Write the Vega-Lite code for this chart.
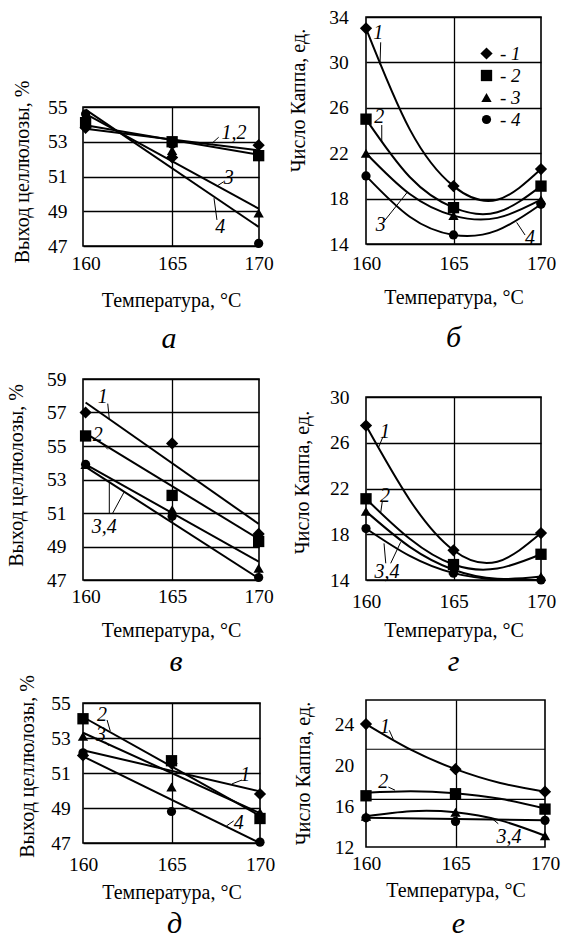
{
  "$schema": "https://vega.github.io/schema/vega-lite/v6.json",
  "background": "white",
  "padding": {"left": 5, "top": 0, "right": 0, "bottom": 0},
  "datasets": {
    "points": [
      {"panel":"a","series":"1","t":160,"v":53.8},{"panel":"a","series":"1","t":165,"v":52.1},{"panel":"a","series":"1","t":170,"v":52.8},
      {"panel":"a","series":"2","t":160,"v":54.1},{"panel":"a","series":"2","t":165,"v":53.0},{"panel":"a","series":"2","t":170,"v":52.2},
      {"panel":"a","series":"3","t":160,"v":54.35},{"panel":"a","series":"3","t":165,"v":52.5},{"panel":"a","series":"3","t":170,"v":48.9},
      {"panel":"a","series":"4","t":160,"v":54.6},{"panel":"a","series":"4","t":165,"v":52.85},{"panel":"a","series":"4","t":170,"v":47.15},
      {"panel":"b","series":"1","t":160,"v":33.0},{"panel":"b","series":"1","t":165,"v":19.1},{"panel":"b","series":"1","t":170,"v":20.6},
      {"panel":"b","series":"2","t":160,"v":25.0},{"panel":"b","series":"2","t":165,"v":17.2},{"panel":"b","series":"2","t":170,"v":19.1},
      {"panel":"b","series":"3","t":160,"v":22.0},{"panel":"b","series":"3","t":165,"v":16.5},{"panel":"b","series":"3","t":170,"v":17.9},
      {"panel":"b","series":"4","t":160,"v":20.0},{"panel":"b","series":"4","t":165,"v":14.8},{"panel":"b","series":"4","t":170,"v":17.5},
      {"panel":"v","series":"1","t":160,"v":57.0},{"panel":"v","series":"1","t":165,"v":55.15},{"panel":"v","series":"1","t":170,"v":49.75},
      {"panel":"v","series":"2","t":160,"v":55.6},{"panel":"v","series":"2","t":165,"v":52.05},{"panel":"v","series":"2","t":170,"v":49.3},
      {"panel":"v","series":"3","t":160,"v":53.9},{"panel":"v","series":"3","t":165,"v":51.2},{"panel":"v","series":"3","t":170,"v":47.7},
      {"panel":"v","series":"4","t":160,"v":53.9},{"panel":"v","series":"4","t":165,"v":50.8},{"panel":"v","series":"4","t":170,"v":47.15},
      {"panel":"g","series":"1","t":160,"v":27.5},{"panel":"g","series":"1","t":165,"v":16.6},{"panel":"g","series":"1","t":170,"v":18.1},
      {"panel":"g","series":"2","t":160,"v":21.1},{"panel":"g","series":"2","t":165,"v":15.35},{"panel":"g","series":"2","t":170,"v":16.25},
      {"panel":"g","series":"3","t":160,"v":20.0},{"panel":"g","series":"3","t":165,"v":14.9},{"panel":"g","series":"3","t":170,"v":14.3},
      {"panel":"g","series":"4","t":160,"v":18.5},{"panel":"g","series":"4","t":165,"v":14.6},{"panel":"g","series":"4","t":170,"v":14.0},
      {"panel":"d","series":"1","t":160,"v":52.0},{"panel":"d","series":"1","t":165,"v":51.55},{"panel":"d","series":"1","t":170,"v":49.8},
      {"panel":"d","series":"2","t":160,"v":54.1},{"panel":"d","series":"2","t":165,"v":51.7},{"panel":"d","series":"2","t":170,"v":48.4},
      {"panel":"d","series":"3","t":160,"v":53.1},{"panel":"d","series":"3","t":165,"v":50.2},{"panel":"d","series":"3","t":170,"v":48.75},
      {"panel":"d","series":"4","t":160,"v":52.15},{"panel":"d","series":"4","t":165,"v":48.8},{"panel":"d","series":"4","t":170,"v":47.05},
      {"panel":"e","series":"1","t":160,"v":24.0},{"panel":"e","series":"1","t":165,"v":19.6},{"panel":"e","series":"1","t":170,"v":17.4},
      {"panel":"e","series":"2","t":160,"v":17.0},{"panel":"e","series":"2","t":165,"v":17.2},{"panel":"e","series":"2","t":170,"v":15.7},
      {"panel":"e","series":"3","t":160,"v":15.0},{"panel":"e","series":"3","t":165,"v":15.4},{"panel":"e","series":"3","t":170,"v":13.1},
      {"panel":"e","series":"4","t":160,"v":14.85},{"panel":"e","series":"4","t":165,"v":14.5},{"panel":"e","series":"4","t":170,"v":14.6}
    ],
    "lines": [
      {"panel":"a","line":"1","t":160,"v":53.75},{"panel":"a","line":"1","t":170,"v":52.5},
      {"panel":"a","line":"2","t":160,"v":53.95},{"panel":"a","line":"2","t":170,"v":52.25},
      {"panel":"a","line":"3","t":160,"v":54.6},{"panel":"a","line":"3","t":170,"v":49.15},
      {"panel":"a","line":"4","t":160,"v":54.85},{"panel":"a","line":"4","t":170,"v":48.1},
      {"panel":"b","line":"1","t":160,"v":33.0},{"panel":"b","line":"1","t":162.5,"v":24.1},{"panel":"b","line":"1","t":165,"v":19.1},{"panel":"b","line":"1","t":167.5,"v":17.9},{"panel":"b","line":"1","t":170,"v":20.6},
      {"panel":"b","line":"2","t":160,"v":25.0},{"panel":"b","line":"2","t":162.5,"v":19.9},{"panel":"b","line":"2","t":165,"v":17.2},{"panel":"b","line":"2","t":167.5,"v":16.8},{"panel":"b","line":"2","t":170,"v":19.1},
      {"panel":"b","line":"3","t":160,"v":22.0},{"panel":"b","line":"3","t":162.5,"v":18.4},{"panel":"b","line":"3","t":165,"v":16.5},{"panel":"b","line":"3","t":167.5,"v":16.3},{"panel":"b","line":"3","t":170,"v":17.9},
      {"panel":"b","line":"4","t":160,"v":20.0},{"panel":"b","line":"4","t":162.5,"v":16.4},{"panel":"b","line":"4","t":165,"v":14.8},{"panel":"b","line":"4","t":167.5,"v":15.2},{"panel":"b","line":"4","t":170,"v":17.5},
      {"panel":"v","line":"1","t":160,"v":57.6},{"panel":"v","line":"1","t":170,"v":50.35},
      {"panel":"v","line":"2","t":160,"v":55.75},{"panel":"v","line":"2","t":170,"v":49.45},
      {"panel":"v","line":"3","t":160,"v":53.9},{"panel":"v","line":"3","t":170,"v":48.1},
      {"panel":"v","line":"4","t":160,"v":53.75},{"panel":"v","line":"4","t":170,"v":47.1},
      {"panel":"g","line":"1","t":160,"v":27.5},{"panel":"g","line":"1","t":162.5,"v":21.0},{"panel":"g","line":"1","t":165,"v":16.6},{"panel":"g","line":"1","t":167.5,"v":15.6},{"panel":"g","line":"1","t":170,"v":18.1},
      {"panel":"g","line":"2","t":160,"v":21.1},{"panel":"g","line":"2","t":162.5,"v":17.6},{"panel":"g","line":"2","t":165,"v":15.35},{"panel":"g","line":"2","t":167.5,"v":15.0},{"panel":"g","line":"2","t":170,"v":16.25},
      {"panel":"g","line":"3","t":160,"v":20.0},{"panel":"g","line":"3","t":162.5,"v":16.9},{"panel":"g","line":"3","t":165,"v":14.9},{"panel":"g","line":"3","t":167.5,"v":14.1},{"panel":"g","line":"3","t":170,"v":14.3},
      {"panel":"g","line":"4","t":160,"v":18.5},{"panel":"g","line":"4","t":162.5,"v":16.1},{"panel":"g","line":"4","t":165,"v":14.6},{"panel":"g","line":"4","t":167.5,"v":14.05},{"panel":"g","line":"4","t":170,"v":14.0},
      {"panel":"d","line":"1","t":160,"v":52.3},{"panel":"d","line":"1","t":170,"v":49.95},
      {"panel":"d","line":"2","t":160,"v":54.2},{"panel":"d","line":"2","t":170,"v":48.55},
      {"panel":"d","line":"3","t":160,"v":53.3},{"panel":"d","line":"3","t":170,"v":48.7},
      {"panel":"d","line":"4","t":160,"v":51.95},{"panel":"d","line":"4","t":170,"v":47.0},
      {"panel":"e","line":"1","t":160,"v":24.0},{"panel":"e","line":"1","t":162.5,"v":21.5},{"panel":"e","line":"1","t":165,"v":19.6},{"panel":"e","line":"1","t":167.5,"v":18.25},{"panel":"e","line":"1","t":170,"v":17.4},
      {"panel":"e","line":"2","t":160,"v":17.3},{"panel":"e","line":"2","t":162.5,"v":17.45},{"panel":"e","line":"2","t":165,"v":17.25},{"panel":"e","line":"2","t":167.5,"v":16.7},{"panel":"e","line":"2","t":170,"v":15.75},
      {"panel":"e","line":"3","t":160,"v":15.0},{"panel":"e","line":"3","t":162.5,"v":15.5},{"panel":"e","line":"3","t":165,"v":15.4},{"panel":"e","line":"3","t":167.5,"v":14.6},{"panel":"e","line":"3","t":170,"v":13.1},
      {"panel":"e","line":"4","t":160,"v":14.85},{"panel":"e","line":"4","t":170,"v":14.6}
    ],
    "labels": [
      {"panel":"a","t":168.58,"v":53.5,"label":"1,2"},{"panel":"a","t":168.27,"v":50.9,"label":"3"},{"panel":"a","t":167.78,"v":48.11,"label":"4"},
      {"panel":"b","t":160.7,"v":32.56,"label":"1"},{"panel":"b","t":160.76,"v":25.22,"label":"2"},{"panel":"b","t":160.84,"v":15.67,"label":"3"},{"panel":"b","t":169.37,"v":14.5,"label":"4"},
      {"panel":"v","t":160.99,"v":57.93,"label":"1"},{"panel":"v","t":160.7,"v":55.64,"label":"2"},{"panel":"v","t":161.08,"v":50.18,"label":"3,4"},
      {"panel":"g","t":161.09,"v":26.9,"label":"1"},{"panel":"g","t":161.09,"v":21.35,"label":"2"},{"panel":"g","t":161.2,"v":14.66,"label":"3,4"},
      {"panel":"d","t":161.07,"v":54.31,"label":"2"},{"panel":"d","t":161.02,"v":53.17,"label":"3"},{"panel":"d","t":169.17,"v":50.89,"label":"1"},{"panel":"d","t":168.8,"v":48.13,"label":"4"},
      {"panel":"e","t":161.06,"v":23.71,"label":"1"},{"panel":"e","t":160.97,"v":18.34,"label":"2"},{"panel":"e","t":167.99,"v":12.95,"label":"3,4"}
    ],
    "leaders": [
      {"panel":"a","t":167.3,"v":52.91,"t2":167.69,"v2":53.26},{"panel":"a","t":167.98,"v":50.7,"t2":167.59,"v2":50.45},{"panel":"a","t":167.59,"v":48.5,"t2":167.42,"v2":49.75},
      {"panel":"b","t":160.84,"v":31.77,"t2":160.8,"v2":29.8},{"panel":"b","t":160.9,"v":24.48,"t2":160.9,"v2":23.0},{"panel":"b","t":161.09,"v":16.11,"t2":162.33,"v2":18.5},{"panel":"b","t":169.09,"v":14.79,"t2":168.61,"v2":15.9},
      {"panel":"v","t":161.28,"v":57.53,"t2":161.37,"v2":56.6},{"panel":"v","t":160.89,"v":55.24,"t2":161.28,"v2":54.8},{"panel":"v","t":161.37,"v":51.0,"t2":161.37,"v2":52.8},{"panel":"v","t":161.57,"v":51.0,"t2":162.25,"v2":52.3},
      {"panel":"g","t":160.97,"v":26.53,"t2":160.72,"v2":25.6},{"panel":"g","t":160.93,"v":20.85,"t2":160.84,"v2":19.9},{"panel":"g","t":161.13,"v":15.46,"t2":161.03,"v2":17.2},{"panel":"g","t":161.41,"v":15.46,"t2":161.98,"v2":17.3},
      {"panel":"d","t":161.36,"v":54.03,"t2":161.54,"v2":53.4},{"panel":"d","t":161.26,"v":52.79,"t2":161.45,"v2":52.55},{"panel":"d","t":168.98,"v":50.6,"t2":168.42,"v2":50.38},{"panel":"d","t":168.51,"v":48.26,"t2":168.1,"v2":47.97},
      {"panel":"e","t":161.3,"v":23.39,"t2":161.53,"v2":22.5},{"panel":"e","t":161.25,"v":17.85,"t2":161.62,"v2":17.55},{"panel":"e","t":167.39,"v":14.27,"t2":167.02,"v2":14.8}
    ],
    "egrid": [
      {"t":160,"v":16.65,"t2":170,"v2":16.65},{"t":160,"v":21.54,"t2":170,"v2":21.54}
    ]
  },
  "spacing": 11,
  "resolve": {"scale": {"shape": "independent", "size": "independent"}},
  "hconcat": [
    {
      "spacing": 0,
      "bounds": "flush",
      "resolve": {"scale": {"shape": "independent", "size": "independent"}},
      "vconcat": [
        {"width": 1, "height": 107, "data": {"values": []}, "mark": {"type": "point", "opacity": 0}, "view": {"stroke": null}},
        {
          "width": 176, "height": 139,
          "title": {"text": "а", "orient": "bottom", "anchor": "middle", "baseline": "alphabetic", "offset": 37.5, "dx": -2},
          "encoding": {
            "x": {"field": "t", "type": "quantitative", "scale": {"domain": [159.85, 170.02], "nice": false, "zero": false},
                  "axis": {"title": "Температура, °C", "values": [160, 165, 170], "labelPadding": 8.5, "titlePadding": 17,
                           "gridOpacity": {"condition": {"test": "datum.value === 165", "value": 1}, "value": 0}}},
            "y": {"field": "v", "type": "quantitative", "scale": {"domain": [47, 55], "nice": false, "zero": false},
                  "axis": {"title": "Выход целлюлозы, %", "values": [47, 49, 51, 53, 55], "labelPadding": 16, "titlePadding": 15.5, "titleY": 64.5}}
          },
          "layer": [
            {"data": {"name": "lines"}, "transform": [{"filter": "datum.panel === 'a'"}], "mark": {"type": "line", "color": "black", "strokeWidth": 2}, "encoding": {"detail": {"field": "line", "type": "nominal"}}},
            {"data": {"name": "points"}, "transform": [{"filter": "datum.panel === 'a'"}], "mark": {"type": "point", "filled": true, "color": "black", "opacity": 1},
             "encoding": {"shape": {"field": "series", "type": "nominal", "scale": {"domain": ["1","2","3","4"], "range": ["diamond","square","triangle-up","circle"]}, "legend": null},
                          "size": {"field": "series", "type": "nominal", "scale": {"domain": ["1","2","3","4"], "range": [150, 85, 115, 85]}, "legend": null}}},
            {"data": {"name": "labels"}, "transform": [{"filter": "datum.panel === 'a'"}], "mark": {"type": "text", "font": "Liberation Serif", "fontStyle": "italic", "fontSize": 20, "color": "black", "align": "center", "baseline": "middle"}, "encoding": {"text": {"field": "label", "type": "nominal"}}},
            {"data": {"name": "leaders"}, "transform": [{"filter": "datum.panel === 'a'"}], "mark": {"type": "rule", "color": "black", "strokeWidth": 1}, "encoding": {"x2": {"field": "t2"}, "y2": {"field": "v2"}}}
          ]
        },
        {"width": 1, "height": 133, "data": {"values": []}, "mark": {"type": "point", "opacity": 0}, "view": {"stroke": null}},
        {
          "width": 176, "height": 201,
          "title": {"text": "в", "orient": "bottom", "anchor": "middle", "baseline": "alphabetic", "offset": 30.5, "dx": 5},
          "encoding": {
            "x": {"field": "t", "type": "quantitative", "scale": {"domain": [159.85, 170.02], "nice": false, "zero": false},
                  "axis": {"title": "Температура, °C", "values": [160, 165, 170], "labelPadding": 7.5, "titlePadding": 14,
                           "gridOpacity": {"condition": {"test": "datum.value === 165", "value": 1}, "value": 0}}},
            "y": {"field": "v", "type": "quantitative", "scale": {"domain": [47, 59], "nice": false, "zero": false},
                  "axis": {"title": "Выход целлюлозы, %", "values": [47, 49, 51, 53, 55, 57, 59], "labelPadding": 17, "titlePadding": 20.5, "titleY": 96}}
          },
          "layer": [
            {"data": {"name": "lines"}, "transform": [{"filter": "datum.panel === 'v'"}], "mark": {"type": "line", "color": "black", "strokeWidth": 2}, "encoding": {"detail": {"field": "line", "type": "nominal"}}},
            {"data": {"name": "points"}, "transform": [{"filter": "datum.panel === 'v'"}], "mark": {"type": "point", "filled": true, "color": "black", "opacity": 1},
             "encoding": {"shape": {"field": "series", "type": "nominal", "scale": {"domain": ["1","2","3","4"], "range": ["diamond","square","triangle-up","circle"]}, "legend": null},
                          "size": {"field": "series", "type": "nominal", "scale": {"domain": ["1","2","3","4"], "range": [150, 85, 115, 85]}, "legend": null}}},
            {"data": {"name": "labels"}, "transform": [{"filter": "datum.panel === 'v'"}], "mark": {"type": "text", "font": "Liberation Serif", "fontStyle": "italic", "fontSize": 20, "color": "black", "align": "center", "baseline": "middle"}, "encoding": {"text": {"field": "label", "type": "nominal"}}},
            {"data": {"name": "leaders"}, "transform": [{"filter": "datum.panel === 'v'"}], "mark": {"type": "rule", "color": "black", "strokeWidth": 1}, "encoding": {"x2": {"field": "t2"}, "y2": {"field": "v2"}}}
          ]
        },
        {"width": 1, "height": 123, "data": {"values": []}, "mark": {"type": "point", "opacity": 0}, "view": {"stroke": null}},
        {
          "width": 177, "height": 140,
          "title": {"text": "д", "orient": "bottom", "anchor": "middle", "baseline": "alphabetic", "offset": 30.5, "dx": 3},
          "encoding": {
            "x": {"field": "t", "type": "quantitative", "scale": {"domain": [160, 170], "nice": false, "zero": false},
                  "axis": {"title": "Температура, °C", "values": [160, 165, 170], "labelPadding": 12.5, "titlePadding": 8,
                           "gridOpacity": {"condition": {"test": "datum.value === 165", "value": 1}, "value": 0}}},
            "y": {"field": "v", "type": "quantitative", "scale": {"domain": [47, 55], "nice": false, "zero": false},
                  "axis": {"title": "Выход целлюлозы, %", "values": [47, 49, 51, 53, 55], "labelPadding": 12.7, "titlePadding": 13.8, "titleY": 63}}
          },
          "layer": [
            {"data": {"name": "lines"}, "transform": [{"filter": "datum.panel === 'd'"}], "mark": {"type": "line", "color": "black", "strokeWidth": 2}, "encoding": {"detail": {"field": "line", "type": "nominal"}}},
            {"data": {"name": "points"}, "transform": [{"filter": "datum.panel === 'd'"}], "mark": {"type": "point", "filled": true, "color": "black", "opacity": 1},
             "encoding": {"shape": {"field": "series", "type": "nominal", "scale": {"domain": ["1","2","3","4"], "range": ["diamond","square","triangle-up","circle"]}, "legend": null},
                          "size": {"field": "series", "type": "nominal", "scale": {"domain": ["1","2","3","4"], "range": [150, 85, 115, 85]}, "legend": null}}},
            {"data": {"name": "labels"}, "transform": [{"filter": "datum.panel === 'd'"}], "mark": {"type": "text", "font": "Liberation Serif", "fontStyle": "italic", "fontSize": 20, "color": "black", "align": "center", "baseline": "middle"}, "encoding": {"text": {"field": "label", "type": "nominal"}}},
            {"data": {"name": "leaders"}, "transform": [{"filter": "datum.panel === 'd'"}], "mark": {"type": "rule", "color": "black", "strokeWidth": 1}, "encoding": {"x2": {"field": "t2"}, "y2": {"field": "v2"}}}
          ]
        }
      ]
    },
    {
      "spacing": 0,
      "bounds": "flush",
      "resolve": {"scale": {"shape": "independent", "size": "independent"}},
      "vconcat": [
        {"width": 1, "height": 17, "data": {"values": []}, "mark": {"type": "point", "opacity": 0}, "view": {"stroke": null}},
        {
          "width": 175, "height": 227,
          "title": {"text": "б", "orient": "bottom", "anchor": "middle", "baseline": "alphabetic", "offset": 40},
          "encoding": {
            "x": {"field": "t", "type": "quantitative", "scale": {"domain": [160, 170], "nice": false, "zero": false},
                  "axis": {"title": "Температура, °C", "values": [160, 165, 170], "labelPadding": 10.5, "titlePadding": 14,
                           "gridOpacity": {"condition": {"test": "datum.value === 165", "value": 1}, "value": 0}}},
            "y": {"field": "v", "type": "quantitative", "scale": {"domain": [14, 34], "nice": false, "zero": false},
                  "axis": {"title": "Число Каппа, ед.", "values": [14, 18, 22, 26, 30, 34], "labelPadding": 17.7, "titlePadding": 20.8, "titleY": 83}}
          },
          "layer": [
            {"data": {"name": "lines"}, "transform": [{"filter": "datum.panel === 'b'"}], "mark": {"type": "line", "color": "black", "strokeWidth": 2, "interpolate": "natural"}, "encoding": {"detail": {"field": "line", "type": "nominal"}}},
            {"data": {"name": "points"}, "transform": [{"filter": "datum.panel === 'b'"}], "mark": {"type": "point", "filled": true, "color": "black", "opacity": 1},
             "encoding": {"shape": {"field": "series", "type": "nominal", "scale": {"domain": ["1","2","3","4"], "range": ["diamond","square","triangle-up","circle"]},
                                    "legend": {"orient": "none", "legendX": 111, "legendY": 27, "title": null, "labelExpr": "'- ' + datum.label",
                                               "labelFont": "Liberation Serif", "labelFontStyle": "italic", "labelFontSize": 19, "labelColor": "black",
                                               "symbolFillColor": "black", "symbolStrokeColor": "black",
                                               "rowPadding": 2, "labelOffset": 4, "padding": 0}},
                          "size": {"field": "series", "type": "nominal", "scale": {"domain": ["1","2","3","4"], "range": [150, 85, 115, 85]},
                                    "legend": {"orient": "none", "legendX": 111, "legendY": 27, "title": null, "labelExpr": "'- ' + datum.label",
                                               "labelFont": "Liberation Serif", "labelFontStyle": "italic", "labelFontSize": 19, "labelColor": "black",
                                               "symbolFillColor": "black", "symbolStrokeColor": "black",
                                               "rowPadding": 2, "labelOffset": 4, "padding": 0}}}},
            {"data": {"name": "labels"}, "transform": [{"filter": "datum.panel === 'b'"}], "mark": {"type": "text", "font": "Liberation Serif", "fontStyle": "italic", "fontSize": 20, "color": "black", "align": "center", "baseline": "middle"}, "encoding": {"text": {"field": "label", "type": "nominal"}}},
            {"data": {"name": "leaders"}, "transform": [{"filter": "datum.panel === 'b'"}], "mark": {"type": "rule", "color": "black", "strokeWidth": 1}, "encoding": {"x2": {"field": "t2"}, "y2": {"field": "v2"}}}
          ]
        },
        {"width": 1, "height": 153, "data": {"values": []}, "mark": {"type": "point", "opacity": 0}, "view": {"stroke": null}},
        {
          "width": 175, "height": 183,
          "title": {"text": "г", "orient": "bottom", "anchor": "middle", "baseline": "alphabetic", "offset": 30.5},
          "encoding": {
            "x": {"field": "t", "type": "quantitative", "scale": {"domain": [160, 170], "nice": false, "zero": false},
                  "axis": {"title": "Температура, °C", "values": [160, 165, 170], "labelPadding": 12.5, "titlePadding": 9,
                           "gridOpacity": {"condition": {"test": "datum.value === 165", "value": 1}, "value": 0}}},
            "y": {"field": "v", "type": "quantitative", "scale": {"domain": [14, 30], "nice": false, "zero": false},
                  "axis": {"title": "Число Каппа, ед.", "values": [14, 18, 22, 26, 30], "labelPadding": 17, "titlePadding": 17, "titleY": 85}}
          },
          "layer": [
            {"data": {"name": "lines"}, "transform": [{"filter": "datum.panel === 'g'"}], "mark": {"type": "line", "color": "black", "strokeWidth": 2, "interpolate": "natural"}, "encoding": {"detail": {"field": "line", "type": "nominal"}}},
            {"data": {"name": "points"}, "transform": [{"filter": "datum.panel === 'g'"}], "mark": {"type": "point", "filled": true, "color": "black", "opacity": 1},
             "encoding": {"shape": {"field": "series", "type": "nominal", "scale": {"domain": ["1","2","3","4"], "range": ["diamond","square","triangle-up","circle"]}, "legend": null},
                          "size": {"field": "series", "type": "nominal", "scale": {"domain": ["1","2","3","4"], "range": [150, 85, 115, 85]}, "legend": null}}},
            {"data": {"name": "labels"}, "transform": [{"filter": "datum.panel === 'g'"}], "mark": {"type": "text", "font": "Liberation Serif", "fontStyle": "italic", "fontSize": 20, "color": "black", "align": "center", "baseline": "middle"}, "encoding": {"text": {"field": "label", "type": "nominal"}}},
            {"data": {"name": "leaders"}, "transform": [{"filter": "datum.panel === 'g'"}], "mark": {"type": "rule", "color": "black", "strokeWidth": 1}, "encoding": {"x2": {"field": "t2"}, "y2": {"field": "v2"}}}
          ]
        },
        {"width": 1, "height": 120, "data": {"values": []}, "mark": {"type": "point", "opacity": 0}, "view": {"stroke": null}},
        {
          "width": 179, "height": 147,
          "title": {"text": "е", "orient": "bottom", "anchor": "middle", "baseline": "alphabetic", "offset": 32.5, "dx": 3},
          "encoding": {
            "x": {"field": "t", "type": "quantitative", "scale": {"domain": [160, 170], "nice": false, "zero": false},
                  "axis": {"title": "Температура, °C", "values": [160, 165, 170], "labelPadding": 7.5, "titlePadding": 7,
                           "gridOpacity": {"condition": {"test": "datum.value === 165", "value": 1}, "value": 0}}},
            "y": {"field": "v", "type": "quantitative", "scale": {"domain": [12, 26.35], "nice": false, "zero": false},
                  "axis": {"title": "Число Каппа, ед.", "values": [12, 16, 20, 24], "grid": false, "labelPadding": 12.3, "titlePadding": 20.7, "titleY": 73}}
          },
          "layer": [
            {"data": {"name": "egrid"}, "mark": {"type": "rule", "color": "black", "strokeWidth": 1.2}, "encoding": {"x2": {"field": "t2"}, "y2": {"field": "v2"}}},
            {"data": {"name": "lines"}, "transform": [{"filter": "datum.panel === 'e'"}], "mark": {"type": "line", "color": "black", "strokeWidth": 2, "interpolate": "natural"}, "encoding": {"detail": {"field": "line", "type": "nominal"}}},
            {"data": {"name": "points"}, "transform": [{"filter": "datum.panel === 'e'"}], "mark": {"type": "point", "filled": true, "color": "black", "opacity": 1},
             "encoding": {"shape": {"field": "series", "type": "nominal", "scale": {"domain": ["1","2","3","4"], "range": ["diamond","square","triangle-up","circle"]}, "legend": null},
                          "size": {"field": "series", "type": "nominal", "scale": {"domain": ["1","2","3","4"], "range": [150, 85, 115, 85]}, "legend": null}}},
            {"data": {"name": "labels"}, "transform": [{"filter": "datum.panel === 'e'"}], "mark": {"type": "text", "font": "Liberation Serif", "fontStyle": "italic", "fontSize": 20, "color": "black", "align": "center", "baseline": "middle"}, "encoding": {"text": {"field": "label", "type": "nominal"}}},
            {"data": {"name": "leaders"}, "transform": [{"filter": "datum.panel === 'e'"}], "mark": {"type": "rule", "color": "black", "strokeWidth": 1}, "encoding": {"x2": {"field": "t2"}, "y2": {"field": "v2"}}}
          ]
        }
      ]
    }
  ],
  "config": {
    "view": {"stroke": "black", "strokeWidth": 1.6},
    "font": "Liberation Serif",
    "axis": {
      "labelFont": "Liberation Serif", "titleFont": "Liberation Serif",
      "labelFontSize": 19.5, "titleFontSize": 20, "titleFontWeight": "normal",
      "labelColor": "black", "titleColor": "black",
      "ticks": false, "tickSize": 0, "domain": false,
      "grid": true, "gridColor": "black", "gridOpacity": 1, "gridWidth": 1.3,
      "labelFlush": false, "labelOverlap": false
    },
    "legend": {"symbolFillColor": "black", "symbolStrokeColor": "black"},
    "title": {"font": "Liberation Serif", "fontStyle": "italic", "fontWeight": "normal", "fontSize": 30, "color": "black"}
  }
}
